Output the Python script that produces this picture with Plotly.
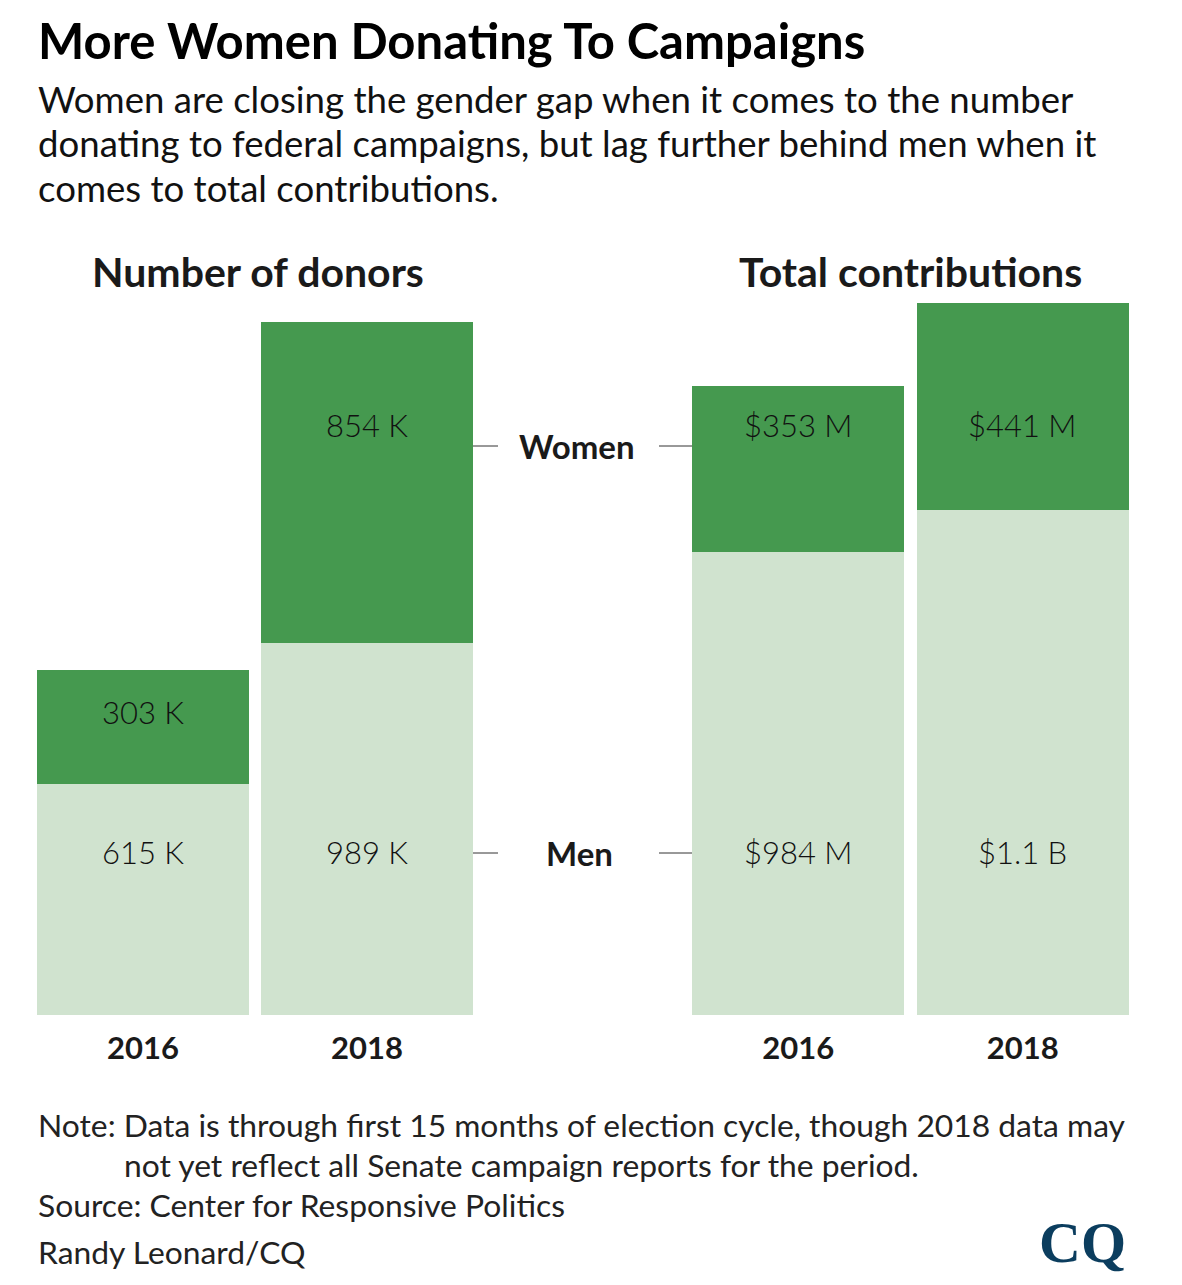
import plotly.graph_objects as go

# ---- data ----
years = ["2016", "2018"]
donors_men = [615, 989]          # thousands
donors_women = [303, 854]        # thousands
donors_men_lbl = ["615 K", "989 K"]
donors_women_lbl = ["303 K", "854 K"]
contrib_men = [984, 1073]        # $ millions
contrib_women = [353, 441]       # $ millions
contrib_men_lbl = ["$984 M", "$1.1 B"]
contrib_women_lbl = ["$353 M", "$441 M"]

OFF = 8  # default page body margin
W, H = 1166, 1269
def px(x):
    return (x - OFF) / W
def py(y):
    return 1 - (y - OFF) / H

LIGHT = "#D0E3CF"
DARK = "#45994F"
TXT = "#1a1a1a"
FONT = "Lato"

fig = go.Figure()
fig.add_trace(go.Bar(x=years, y=donors_men, marker_color=LIGHT, xaxis="x", yaxis="y", hoverinfo="skip"))
fig.add_trace(go.Bar(x=years, y=donors_women, marker_color=DARK, xaxis="x", yaxis="y", hoverinfo="skip"))
fig.add_trace(go.Bar(x=years, y=contrib_men, marker_color=LIGHT, xaxis="x2", yaxis="y2", hoverinfo="skip"))
fig.add_trace(go.Bar(x=years, y=contrib_women, marker_color=DARK, xaxis="x2", yaxis="y2", hoverinfo="skip"))
fig.update_traces(marker_line_width=0)

base, top = 1015, 303
tickvals = years
ticktext = ["<b>%s</b>" % y for y in years]
axis_common = dict(showgrid=False, zeroline=False, showline=False, ticks="",
                   tickfont=dict(family=FONT, size=31, color=TXT), fixedrange=True)
fig.update_layout(
    width=W, height=H, margin=dict(l=0, r=0, t=0, b=0),
    paper_bgcolor="white", plot_bgcolor="white", showlegend=False,
    barmode="stack", bargap=12 / 224,
    xaxis=dict(domain=[px(31), px(479)], range=[-0.5, 1.5], type="category",
               tickvals=tickvals, ticktext=ticktext, ticklabelstandoff=12, **axis_common),
    yaxis=dict(domain=[py(base), py(top)], range=[0, (base - top) * 2.66], visible=False),
    xaxis2=dict(domain=[px(686), px(1135)], range=[-0.5, 1.5], type="category", anchor="y2",
                tickvals=tickvals, ticktext=ticktext, ticklabelstandoff=12, **axis_common),
    yaxis2=dict(domain=[py(base), py(top)], range=[0, (base - top) * 2.125], visible=False, anchor="x2"),
)

ann = []
def lbl(text, xref, x, y, size=30, bold=False, color=TXT, xanchor="center", family=FONT, weight=None):
    f = dict(family=family, size=size, color=color)
    if weight:
        f["weight"] = weight
    ann.append(dict(text=("<b>%s</b>" % text) if bold else text, xref=xref, yref="paper",
                    x=x, y=y, showarrow=False, xanchor=xanchor, yanchor="middle", font=f))

# bar value labels (x given as category index)
women_y = [712, 425]
for i in range(len(years)):
    lbl(donors_women_lbl[i], "x", i, py(women_y[i]), size=31, weight=300, color="#111")
    lbl(donors_men_lbl[i], "x", i, py(852), size=31, weight=300, color="#111")
    lbl(contrib_women_lbl[i], "x2", i, py(425), size=31, weight=300, color="#111")
    lbl(contrib_men_lbl[i], "x2", i, py(852), size=31, weight=300, color="#111")

# series labels in middle
lbl("Women", "paper", px(577), py(446), size=33, bold=True)
lbl("Men", "paper", px(579), py(853), size=33, bold=True)

# panel titles
lbl("Number of donors", "paper", px(258), py(272), size=41, bold=True)
lbl("Total contributions", "paper", px(910), py(272), size=41, bold=True)

# title and subtitle
ann.append(dict(text="<b>More Women Donating To Campaigns</b>", xref="paper", yref="paper",
                x=px(36), y=py(40), xanchor="left", yanchor="middle", showarrow=False,
                font=dict(family=FONT, size=49, color="#000")))
subs = ["Women are closing the gender gap when it comes to the number",
        "donating to federal campaigns, but lag further behind men when it",
        "comes to total contributions."]
for s, y in zip(subs, [99, 143, 188]):
    ann.append(dict(text=s, xref="paper", yref="paper", x=px(36), y=py(y), xanchor="left",
                    yanchor="middle", showarrow=False, font=dict(family=FONT, size=36.6, color="#111")))

notes = [("Note: Data is through first 15 months of election cycle, though 2018 data may", 36, 1125),
         ("not yet reflect all Senate campaign reports for the period.", 122, 1165),
         ("Source: Center for Responsive Politics", 36, 1205),
         ("Randy Leonard/CQ", 36, 1252)]
for s, x, y in notes:
    ann.append(dict(text=s, xref="paper", yref="paper", x=px(x), y=py(y), xanchor="left",
                    yanchor="middle", showarrow=False, font=dict(family=FONT, size=31.8, color="#222")))

ann.append(dict(text="<b>CQ</b>", xref="paper", yref="paper", x=px(1082), y=py(1242),
                xanchor="center", yanchor="middle", showarrow=False,
                font=dict(family="Liberation Serif", size=58, color="#0B3D5E")))

fig.update_layout(annotations=ann)

shapes = []
for y in [446, 853]:
    shapes.append(dict(type="line", xref="paper", yref="paper", x0=px(473), x1=px(498),
                       y0=py(y), y1=py(y), line=dict(color="#333", width=1)))
    shapes.append(dict(type="line", xref="paper", yref="paper", x0=px(659), x1=px(692),
                       y0=py(y), y1=py(y), line=dict(color="#333", width=1)))
fig.update_layout(shapes=shapes)

fig.write_html("out.html")
